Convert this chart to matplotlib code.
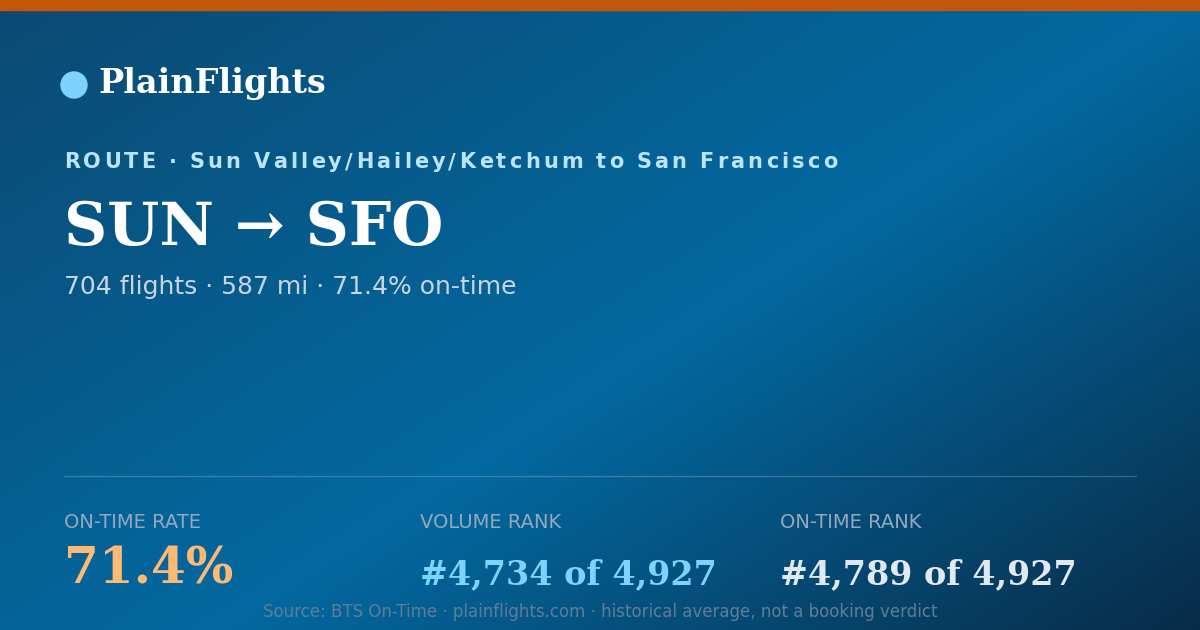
import numpy as np
import matplotlib.pyplot as plt
from matplotlib.patches import Circle, Rectangle

brand = "PlainFlights"
route_label = "ROUTE · Sun Valley/Hailey/Ketchum to San Francisco"
route_code = "SUN → SFO"
summary = "704 flights · 587 mi · 71.4% on-time"
stat_labels = ["ON-TIME RATE", "VOLUME RANK", "ON-TIME RANK"]
stat_values = ["71.4%", "#4,734 of 4,927", "#4,789 of 4,927"]
footer = "Source: BTS On-Time · plainflights.com · historical average, not a booking verdict"

W, H = 1200, 630
fig = plt.figure(figsize=(W / 100, H / 100), dpi=100)
ax = fig.add_axes([0, 0, 1, 1])
ax.set_xlim(0, W)
ax.set_ylim(H, 0)
ax.axis("off")

# diagonal gradient background
yy, xx = np.mgrid[0:H, 0:W]
t = (xx / W * 0.55 + yy / H * 0.45)
c0 = np.array([0x0b, 0x4a, 0x72]) / 255
c1 = np.array([0x03, 0x69, 0xa1]) / 255
c2 = np.array([0x08, 0x2c, 0x48]) / 255
tt = t[..., None]
img = np.where(tt < 0.55, c0 + (c1 - c0) * (tt / 0.55), c1 + (c2 - c1) * ((tt - 0.55) / 0.45))
ax.imshow(np.clip(img, 0, 1), extent=[0, W, H, 0], aspect="auto", zorder=0)

ax.add_patch(Rectangle((0, 0), W, 10, color="#c2570c", zorder=1))
ax.add_patch(Circle((74, 85), 13, color="#7dd3fc", zorder=2))
ax.text(98, 84, brand, family="DejaVu Serif", weight="bold", fontsize=24,
        color="white", va="center")

# letter-spaced route label
fig.canvas.draw()
r = fig.canvas.get_renderer()
x = 64
for ch in route_label:
    tx = ax.text(x, 162, ch, fontsize=15, weight="bold", color="#bae6fd", va="center")
    bb = tx.get_window_extent(renderer=r)
    if ch == " ":
        w = 6.5
    else:
        w = bb.width
    x += w + 3.2

ax.text(64, 228, route_code, family="DejaVu Serif", weight="bold", fontsize=43,
        color="white", va="center")
ax.text(64, 287, summary, fontsize=18, color="#c7d6e6", va="center")

ax.plot([64, 1136], [476, 476], color="white", alpha=0.2, lw=1)

xs = [64, 420, 780]
vcolors = ["#fdba74", "#7dd3fc", "#e2e8f0"]
vsizes = [36, 24, 24]
vys = [570, 575, 575]
for i in range(3):
    ax.text(xs[i], 523, stat_labels[i], fontsize=14, color="#94a9bf", va="center")
    ax.text(xs[i], vys[i], stat_values[i], family="DejaVu Serif", weight="bold",
            fontsize=vsizes[i], color=vcolors[i], va="center")

ax.text(600, 612, footer, fontsize=12, color="#5f7d99", ha="center", va="center")

fig.savefig("out.png", dpi=100)
